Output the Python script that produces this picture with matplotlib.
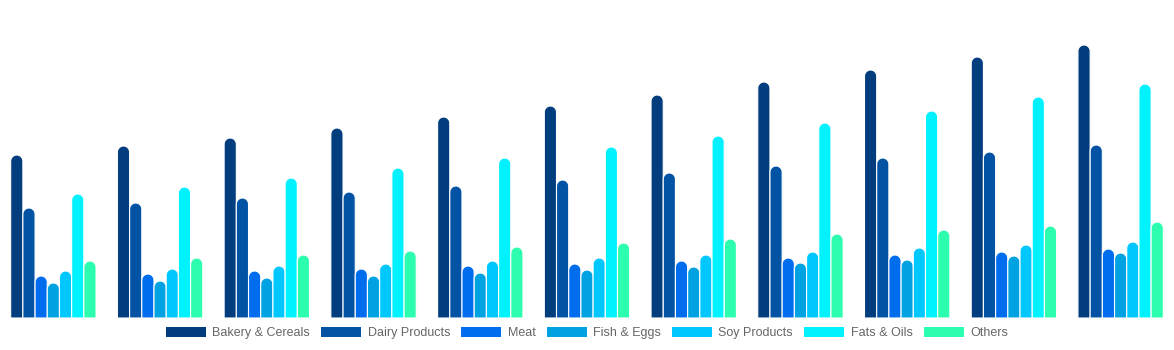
import numpy as np
import matplotlib.pyplot as plt
from matplotlib.patches import PathPatch
from matplotlib.path import Path

plt.rcParams['font.family'] = ['Liberation Sans', 'DejaVu Sans']

series = ['Bakery & Cereals', 'Dairy Products', 'Meat', 'Fish & Eggs',
          'Soy Products', 'Fats & Oils', 'Others']
colors = ['#023E7D', '#0353A4', '#006DEE', '#00A2E2', '#00C8FF', '#00F2FF', '#2DFDAE']

# values (pixel heights above the baseline)
bakery = [163, 172, 180, 190, 201, 212, 223, 236, 248, 261, 273]
dairy = [110, 115, 120, 126, 132, 138, 145, 152, 160, 166, 173]
meat = [42, 44, 47, 49, 52, 54, 57, 60, 63, 66, 69]
fish = [35, 37, 40, 42, 45, 48, 51, 55, 58, 62, 65]
soy = [47, 49, 52, 54, 57, 60, 63, 66, 70, 73, 76]
fats = [124, 131, 140, 150, 160, 171, 182, 195, 207, 221, 234]
others = [57, 60, 63, 67, 71, 75, 79, 84, 88, 92, 96]
data = [bakery, dairy, meat, fish, soy, fats, others]

n = len(bakery)
x = np.arange(n)
w = 0.8 / len(series)

fig = plt.figure(figsize=(11.74, 3.5), dpi=100)
ax = fig.add_axes([0, 32 / 350, 1, 318 / 350])
ax.set_xlim(-0.5, n - 0.5)
ax.set_ylim(0, 318)
ax.axis('off')

# radius in data units for a ~5.5 px round top
rx = 5.5 / (1174 / n)
ry = 5.5


def rounded(p, color):
    x0, y0 = p.get_x(), p.get_y()
    bw, bh = p.get_width(), p.get_height()
    cx = x0 + bw / 2
    r = bw / 2
    ryy = r / rx * ry
    t = np.linspace(np.pi, 0, 20)
    pts = [(x0, y0), (x0, y0 + bh - ryy)]
    pts += list(zip(cx + r * np.cos(t), y0 + bh - ryy + ryy * np.sin(t)))
    pts += [(x0 + bw, y0), (x0, y0)]
    patch = PathPatch(Path(pts, closed=True), facecolor=color,
                      edgecolor='white', linewidth=0.8)
    ax.add_patch(patch)


handles = []
for i, (name, vals, c) in enumerate(zip(series, data, colors)):
    bars = ax.bar(x - 0.4 + w * (i + 0.5), vals, width=w, color=c, label=name)
    for p in bars:
        p.set_visible(False)
        rounded(p, c)
    handles.append(plt.Rectangle((0, 0), 1, 1, facecolor=c))

leg = fig.legend(handles, series, loc='center', bbox_to_anchor=(0.5, 1 - 333 / 350),
                 ncol=7, frameon=False, fontsize=9, handlelength=3.2,
                 handleheight=0.95, handletextpad=0.5, columnspacing=0.9,
                 borderaxespad=0)
for t in leg.get_texts():
    t.set_color('#666666')

fig.savefig('out.png', dpi=100)
